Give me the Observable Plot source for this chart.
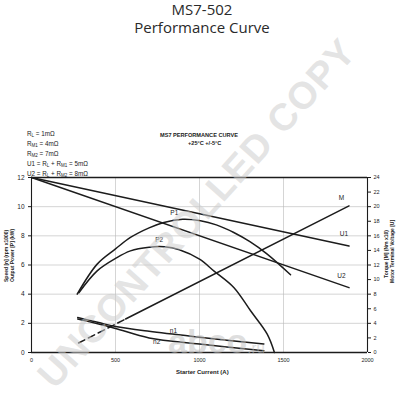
<!DOCTYPE html>
<html><head><meta charset="utf-8">
<script src="https://cdn.jsdelivr.net/npm/d3@7"></script>
<script src="https://cdn.jsdelivr.net/npm/@observablehq/plot@0.6"></script>
<style>
body{margin:0;background:#fff;width:404px;height:400px;overflow:hidden;position:relative;font-family:"Liberation Sans",Arial,sans-serif;}
#wrap{position:absolute;left:0;top:0;}
.abs{position:absolute;white-space:nowrap;}
.title{left:0;width:404px;text-align:center;font-family:"Open Sans",sans-serif;font-size:15px;line-height:17.5px;color:#2a2a2a;}
.leg{left:27px;font-size:6.3px;color:#222;line-height:8px;top:130px;}
.leg sub{font-size:4.5px;vertical-align:-1px;}
.hdr{font-size:5.6px;font-weight:bold;color:#222;}
.rot{font-size:5px;font-weight:bold;color:#222;transform-origin:0 0;transform:rotate(-90deg);}
.wm{font-weight:bold;color:rgba(205,205,205,0.55);pointer-events:none;}
</style></head>
<body>
<div id="wrap"></div>
<script>
// ---- data ----
const xTicks = [0, 500, 1000, 1500, 2000];
const leftTicks = [0, 2, 4, 6, 8, 10, 12];
const rightTicks = [0, 2, 4, 6, 8, 10, 12, 14, 16, 18, 20, 22, 24];
// left-axis series (kW, rpm x1000)
const P1 = [[272,4.0],[391,6.06],[500,7.1],[589,7.89],[700,8.55],[788,8.92],[900,9.13],[1006,9.03],[1100,8.75],[1204,8.23],[1300,7.6],[1403,6.75],[1542,5.33]];
const P2 = [[282,4.1],[391,5.6],[500,6.45],[589,6.97],[700,7.22],[790,7.25],[880,7.05],[1000,6.4],[1085,5.6],[1204,4.46],[1304,2.86],[1403,1.26],[1446,0]];
const n1 = [[275,2.4],[400,2.05],[500,1.78],[700,1.45],[1000,1.05],[1383,0.58]];
const n2 = [[275,2.3],[400,1.95],[500,1.65],[700,1.0],[1000,0.58],[1383,0.12]];
// right-axis series (Nm x10, V)
const U1 = [[0,24],[1890,14.6]];
const U2 = [[0,24],[1890,8.9]];
const Mdash = [[280,1.3],[560,4.6]];
const Msolid = [[560,4.6],[1890,20.1]];
// curve labels: [text, x, value, axis]
const labels = [["P1",850,9.55,"L"],["P2",760,7.75,"L"],["n1",845,1.45,"L"],["n2",745,0.7,"L"],["M",1845,21.2,"R"],["U1",1860,16.2,"R"],["U2",1845,10.5,"R"]];

const ink = "#1c1c1c";
const lineL = (data, extra={}) => Plot.line(data, {x: d => d[0], y: d => d[1], stroke: ink, strokeWidth: 1.5, curve: "catmull-rom", ...extra});
const lineR = (data, extra={}) => Plot.line(data, {x: d => d[0], y: d => d[1] / 2, stroke: ink, strokeWidth: 1.5, ...extra});

const chart = Plot.plot({
  width: 404, height: 400,
  marginTop: 177, marginBottom: 48, marginLeft: 31, marginRight: 37,
  style: {fontFamily: "Liberation Sans, Arial, sans-serif", fontSize: "6px", color: ink, background: "transparent"},
  x: {domain: [0, 2000]},
  y: {domain: [0, 12]},
  marks: [
    Plot.gridY([2,4,6,8,10], {stroke: "#b8b8b8", strokeOpacity: 1, strokeWidth: 0.6}),
    Plot.gridX([500,1000,1500], {stroke: "#b8b8b8", strokeOpacity: 1, strokeWidth: 0.6}),
    Plot.ruleY([0, 12], {stroke: ink, strokeWidth: 1.3}),
    Plot.ruleX([0, 2000], {stroke: ink, strokeWidth: 1.1}),
    Plot.axisY(leftTicks, {anchor: "left", tickSize: 3, tickPadding: 4, label: null, fontSize: 6.5, fill: ink}),
    Plot.axisY(rightTicks.map(d => d / 2), {anchor: "right", tickSize: 3, tickPadding: 3, tickFormat: d => String(d * 2), label: null, fontSize: 5.5, fill: ink}),
    Plot.axisX(xTicks, {anchor: "bottom", tickSize: 0, tickPadding: 6, tickFormat: d => String(d), label: null, fontSize: 5.5, fill: ink}),
    lineR(U1), lineR(U2),
    lineR(Mdash, {strokeDasharray: "7,4"}), lineR(Msolid),
    lineL(P1), lineL(P2), lineL(n1), lineL(n2),
    Plot.text(labels, {x: d => d[1], y: d => d[3] === "R" ? d[2] / 2 : d[2], text: d => d[0], fontSize: 6.5, fill: ink})
  ]
});
document.getElementById("wrap").appendChild(chart);

const add = (cls, html, style) => { const e = document.createElement("div"); e.className = "abs " + cls; e.innerHTML = html; e.style.cssText += style; document.body.appendChild(e); return e; };
add("title", "MS7-502<br>Performance Curve", "top:1px;");
add("leg", "R<sub>L</sub> = 1mΩ<br>R<sub>M1</sub> = 4mΩ<br>R<sub>M2</sub> = 7mΩ<br>U1 = R<sub>L</sub> + R<sub>M1</sub> = 5mΩ<br>U2 = R<sub>L</sub> + R<sub>M2</sub> = 8mΩ", "");
add("hdr", "MS7 PERFORMANCE CURVE", "left:160px;top:132px;");
add("hdr", "+25°C +/-5°C", "left:188px;top:140px;");
add("rot", "Speed [n] (rpm x1000)", "left:3px;top:282px;");
add("rot", "Output Power [P] (kW)", "left:9px;top:282px;");
add("rot", "Torque [M] (Nm x10)", "left:383px;top:278px;");
add("rot", "Motor Terminal Voltage [U]", "left:389px;top:283px;");
add("hdr", "Starter Current (A)", "left:176px;top:369px;font-size:6px;");
add("wm", "UNCONTROLLED COPY", "left:-30px;top:192px;font-size:38px;transform:rotate(-48deg);transform-origin:center;letter-spacing:1px;");
add("wm", "abco<span style='font-size:15px;font-weight:normal'>.ru</span>", "left:168px;top:322px;font-size:34px;color:rgba(190,190,190,0.5);");
</script>
</body></html>
